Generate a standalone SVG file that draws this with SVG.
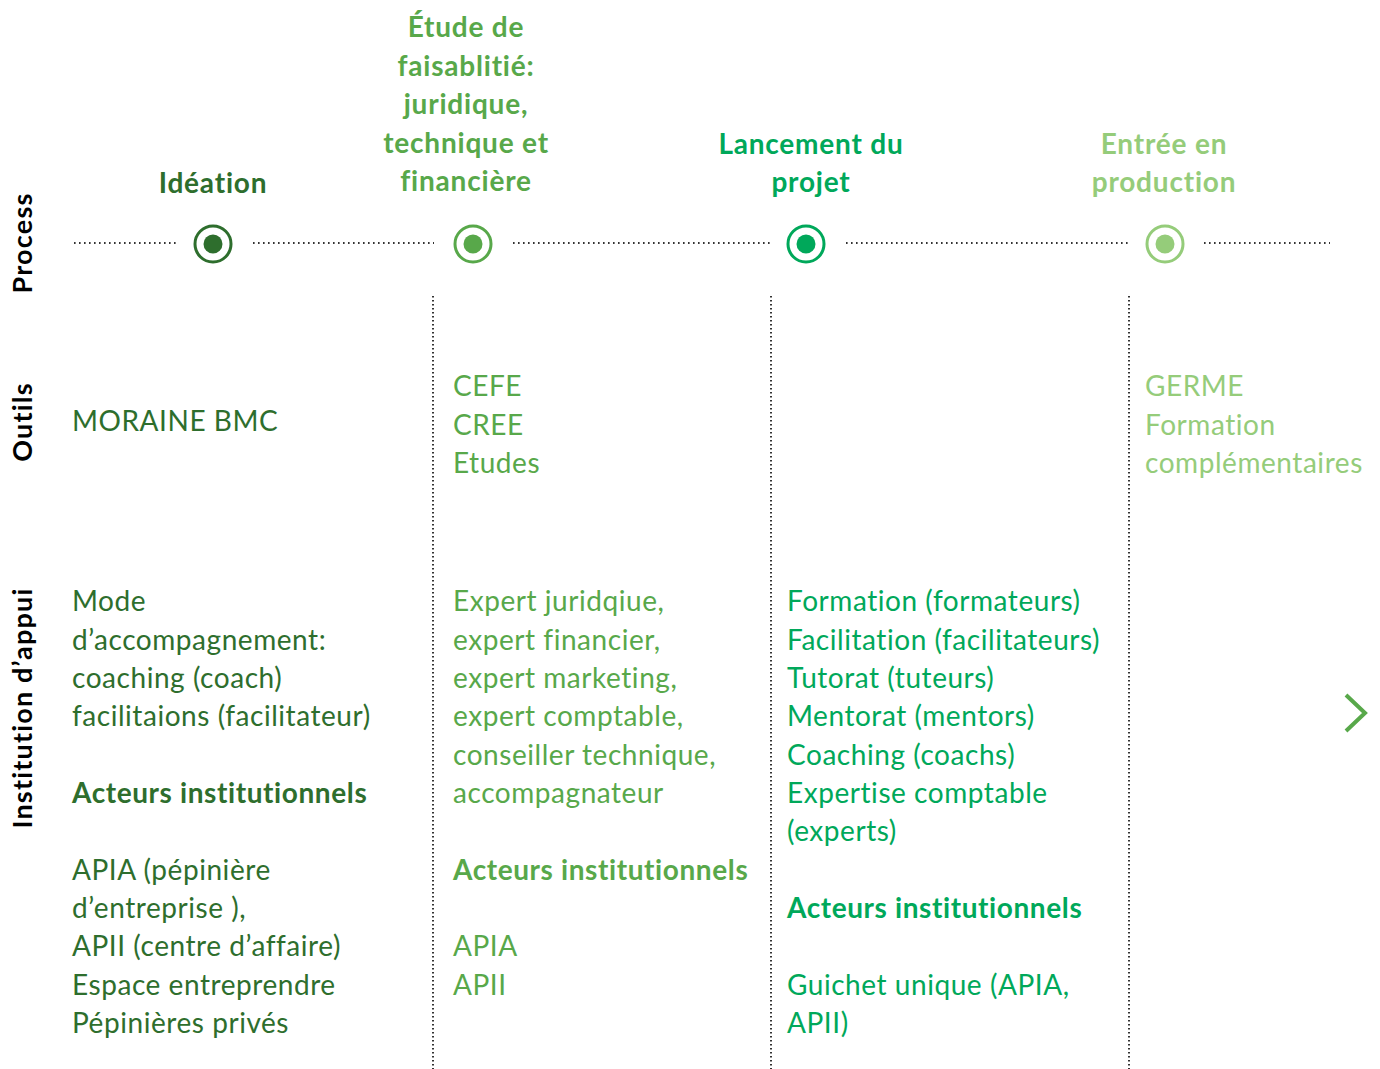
<svg xmlns="http://www.w3.org/2000/svg" width="1380" height="1069" viewBox="0 0 1380 1069">
<style>
text{font-family:Lato,"Open Sans","Liberation Sans",sans-serif;font-size:28px;letter-spacing:0.55px}
.b{font-weight:bold;letter-spacing:0.6px}
.h{font-weight:bold;text-anchor:middle;letter-spacing:0.8px}
.side{font-weight:bold;font-size:27px;letter-spacing:1.2px;fill:#000;text-anchor:middle}
.c1{fill:#2e6e2d}.c2{fill:#58a84a}.c3{fill:#00a85a}.c4{fill:#95cc7a}
.hd{stroke:#333;stroke-width:2;stroke-dasharray:1.6 3.4;fill:none}
.vd{stroke:#333;stroke-width:2;stroke-dasharray:1.5 2.5;fill:none}
.ring{fill:#fff;stroke-width:3}
</style>
<rect width="1380" height="1069" fill="#fff"/>
<g id="side-labels">
<text class="side" transform="translate(32,243) rotate(-90)">Process</text>
<text class="side" transform="translate(32,422) rotate(-90)">Outils</text>
<text class="side" transform="translate(32,708) rotate(-90)">Institution d’appui</text>
</g>
<g id="connectors">
<path class="hd" d="M74 243H176M253 243H434M513 243H770M846 243H1129M1204 243H1330"/>
<path class="vd" d="M433 296V1069M771 296V1069M1129 296V1069"/>
</g>
<g id="node-ideation">
<text class="h c1" x="213" y="193">Idéation</text>
<circle class="ring" cx="213" cy="244" r="18" stroke="#2e6e2d"/>
<circle cx="213" cy="244" r="9.5" fill="#2e6e2d"/>
<text class="c1" x="72" y="431">MORAINE BMC</text>
<text class="c1" x="72" y="611">Mode</text>
<text class="c1" x="72" y="649.5">d’accompagnement:</text>
<text class="c1" x="72" y="688">coaching (coach)</text>
<text class="c1" x="72" y="726">facilitaions (facilitateur)</text>
<text class="b c1" x="72" y="803">Acteurs institutionnels</text>
<text class="c1" x="72" y="880">APIA (pépinière</text>
<text class="c1" x="72" y="918">d’entreprise ),</text>
<text class="c1" x="72" y="956">APII (centre d’affaire)</text>
<text class="c1" x="72" y="995">Espace entreprendre</text>
<text class="c1" x="72" y="1033">Pépinières privés</text>
</g>
<g id="node-etude">
<text class="h c2" x="466" y="37">Étude de</text>
<text class="h c2" x="466" y="76">faisablitié:</text>
<text class="h c2" x="466" y="114">juridique,</text>
<text class="h c2" x="466" y="153">technique et</text>
<text class="h c2" x="466" y="191">financière</text>
<circle class="ring" cx="473" cy="244" r="18" stroke="#58a84a"/>
<circle cx="473" cy="244" r="9.5" fill="#58a84a"/>
<text class="c2" x="453" y="396">CEFE</text>
<text class="c2" x="453" y="435">CREE</text>
<text class="c2" x="453" y="473">Etudes</text>
<text class="c2" x="453" y="611">Expert juridqiue,</text>
<text class="c2" x="453" y="649.5">expert financier,</text>
<text class="c2" x="453" y="688">expert marketing,</text>
<text class="c2" x="453" y="726">expert comptable,</text>
<text class="c2" x="453" y="764.5">conseiller technique,</text>
<text class="c2" x="453" y="803">accompagnateur</text>
<text class="b c2" x="453" y="880">Acteurs institutionnels</text>
<text class="c2" x="453" y="956">APIA</text>
<text class="c2" x="453" y="995">APII</text>
</g>
<g id="node-lancement">
<text class="h c3" x="811" y="154">Lancement du</text>
<text class="h c3" x="811" y="192">projet</text>
<circle class="ring" cx="806" cy="244" r="18" stroke="#00a85a"/>
<circle cx="806" cy="244" r="9.5" fill="#00a85a"/>
<text class="c3" x="787" y="611">Formation (formateurs)</text>
<text class="c3" x="787" y="649.5">Facilitation (facilitateurs)</text>
<text class="c3" x="787" y="688">Tutorat (tuteurs)</text>
<text class="c3" x="787" y="726">Mentorat (mentors)</text>
<text class="c3" x="787" y="764.5">Coaching (coachs)</text>
<text class="c3" x="787" y="803">Expertise comptable</text>
<text class="c3" x="787" y="841">(experts)</text>
<text class="b c3" x="787" y="918">Acteurs institutionnels</text>
<text class="c3" x="787" y="995">Guichet unique (APIA,</text>
<text class="c3" x="787" y="1033">APII)</text>
</g>
<g id="node-entree">
<text class="h c4" x="1164" y="154">Entrée en</text>
<text class="h c4" x="1164" y="192">production</text>
<circle class="ring" cx="1165" cy="244" r="18" stroke="#95cc7a"/>
<circle cx="1165" cy="244" r="9.5" fill="#95cc7a"/>
<text class="c4" x="1145" y="396">GERME</text>
<text class="c4" x="1145" y="435">Formation</text>
<text class="c4" x="1145" y="473">complémentaires</text>
</g>
<g id="arrow">
<path d="M1346 695L1365 713L1346 731" fill="none" stroke="#58a84a" stroke-width="4"/>
</g>
</svg>
